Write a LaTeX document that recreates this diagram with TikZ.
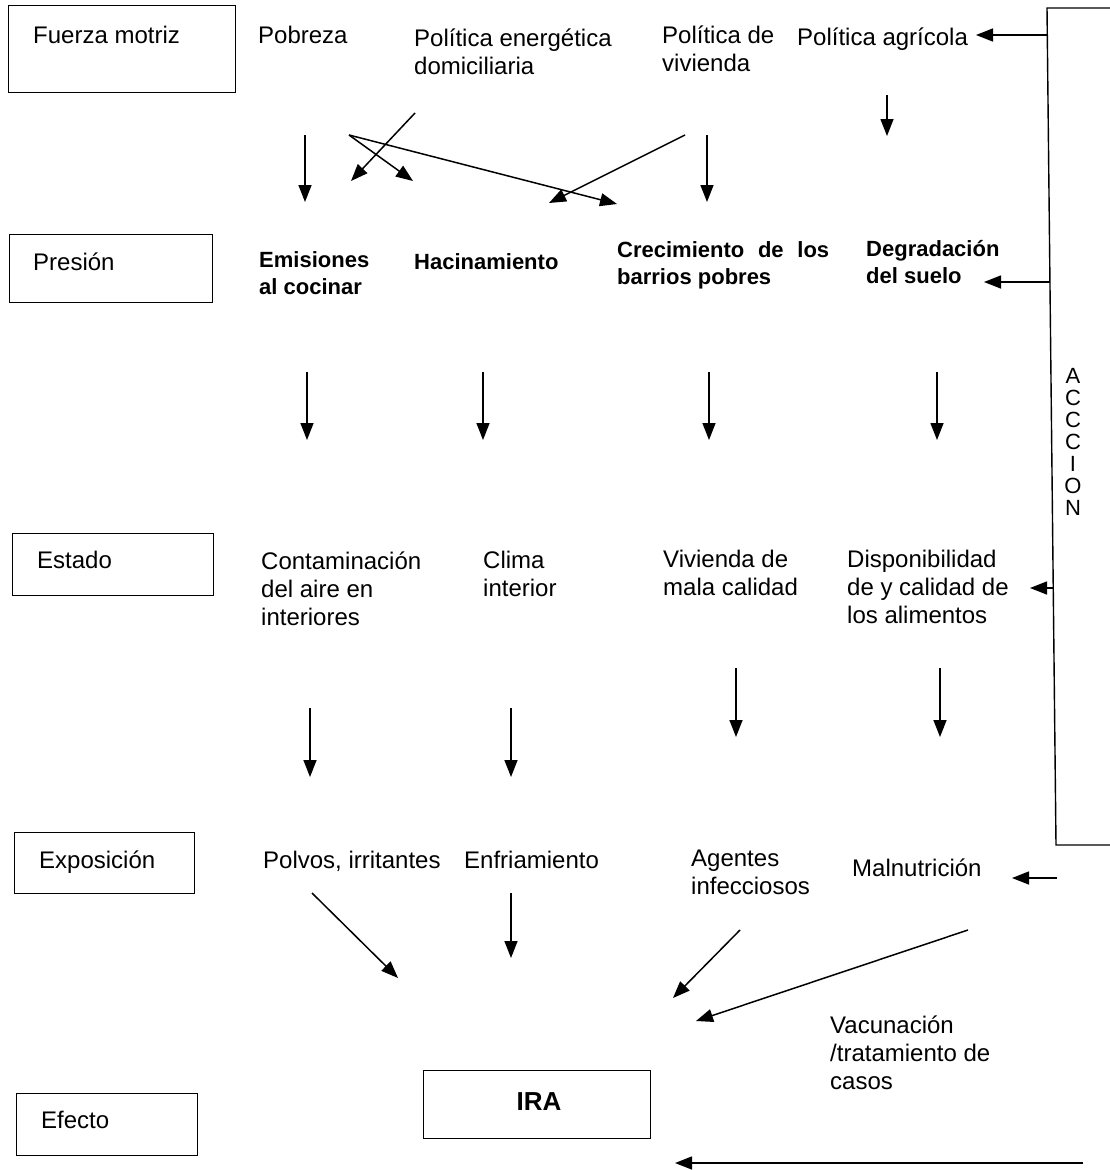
\documentclass[tikz,border=0pt]{standalone}
\usepackage{fontspec}
\setmainfont{Liberation Sans}
\usetikzlibrary{arrows.meta}
\tikzset{
  lbl/.style={anchor=base west, inner sep=0pt, font=\fontsize{24}{28}\selectfont, align=left},
  bld/.style={anchor=base west, inner sep=0pt, font=\bfseries\fontsize{22}{27}\selectfont, align=left},
  lvlbox/.style={draw, line width=1.3pt, anchor=north west, inner sep=0pt},
  arr/.style={line width=1.5pt, -{Triangle[length=17pt,width=13pt]}},
  ln/.style={line width=1.4pt}
}
\begin{document}
\begin{tikzpicture}[x=1pt,y=-1pt]
\useasboundingbox (0,0) rectangle (1109,1170);
% level boxes
\node[lvlbox, minimum width=227pt, minimum height=87pt] (bfm) at (8,5) {};
\node[lvlbox, minimum width=203pt, minimum height=68pt] (bpr) at (9,234) {};
\node[lvlbox, minimum width=201pt, minimum height=62pt] (bes) at (12,533) {};
\node[lvlbox, minimum width=180pt, minimum height=61pt] (bex) at (14,832) {};
\node[lvlbox, minimum width=181pt, minimum height=62pt] (bef) at (16,1093) {};
\node[lvlbox, minimum width=227pt, minimum height=68pt] (bira) at (423,1070) {};
\node[inner sep=0pt, font=\bfseries\fontsize{26}{30}\selectfont] (ira) at (539,1102) {IRA};
% level labels
\node[lbl] (tfm) at (33,43) {Fuerza motriz};
\node[lbl] (tpr) at (33,270) {Presión};
\node[lbl] (tes) at (37,568) {Estado};
\node[lbl] (tex) at (39,868) {Exposición};
\node[lbl] (tef) at (41,1128) {Efecto};
% row 1 (base anchor = baseline of last line)
\node[lbl] (pob) at (258,43) {Pobreza};
\node[lbl] (pen) at (414,74) {Política energética\\domiciliaria};
\node[lbl] (pvi) at (662,71) {Política de\\vivienda};
\node[lbl] (pag) at (797,45) {Política agrícola};
% row 2
\node[bld] (emi) at (259,294) {Emisiones\\al cocinar};
\node[bld] (hac) at (414,269) {Hacinamiento};
\node[bld] (cre) at (617,284) {\makebox[212pt][s]{Crecimiento de los}\\barrios pobres};
\node[bld] (deg) at (866,283) {Degradación\\del suelo};
% row 3
\node[lbl] (con) at (261,625) {Contaminación\\del aire en\\interiores};
\node[lbl] (cli) at (483,596) {Clima\\interior};
\node[lbl] (viv) at (663,595) {Vivienda de\\mala calidad};
\node[lbl] (dis) at (847,623) {Disponibilidad\\de y calidad de\\los alimentos};
% row 4
\node[lbl] (pol) at (263,868) {Polvos, irritantes};
\node[lbl] (enf) at (464,868) {Enfriamiento};
\node[lbl] (age) at (691,894) {Agentes\\infecciosos};
\node[lbl] (mal) at (852,876) {Malnutrición};
% row 5
\node[lbl] (vac) at (830,1089) {Vacunación\\/tratamiento de\\casos};
% ACCION
\node[inner sep=0pt, align=center, font=\fontsize{22}{22}\selectfont, anchor=base] (acc) at (1073,515) {A\\C\\C\\C\\I\\O\\N};
\coordinate (accTL) at (1047,8);
\coordinate (accTR) at (1110,8);
\coordinate (accBL) at (1056,845);
\coordinate (accBR) at (1110,845);
\draw[ln] (accTR) -- (accTL) -- (accBL) -- (accBR);
% arrow coordinates
\coordinate (a1s) at (305,135); \coordinate (a1e) at (305,202);
\coordinate (a2s) at (415,113); \coordinate (a2e) at (351,181);
\coordinate (a3s) at (349,135); \coordinate (a3e) at (413,181);
\coordinate (a4e) at (617,204);
\coordinate (a5s) at (685,135); \coordinate (a5e) at (549,203);
\coordinate (a6s) at (707,135); \coordinate (a6e) at (707,202);
\coordinate (a7s) at (887,95);  \coordinate (a7e) at (887,136);
\coordinate (ags) at (1047.3,35); \coordinate (age2) at (976,35);
\coordinate (dgs) at (1049.8,282); \coordinate (dge) at (984,282);
\coordinate (b1s) at (307,372); \coordinate (b1e) at (307,440);
\coordinate (b2s) at (483,372); \coordinate (b2e) at (483,440);
\coordinate (b3s) at (709,372); \coordinate (b3e) at (709,440);
\coordinate (b4s) at (937,372); \coordinate (b4e) at (937,440);
\coordinate (dss) at (1053,588); \coordinate (dse) at (1030,588);
\coordinate (c1s) at (310,708); \coordinate (c1e) at (310,777);
\coordinate (c2s) at (511,708); \coordinate (c2e) at (511,777);
\coordinate (c3s) at (736,668); \coordinate (c3e) at (736,737);
\coordinate (c4s) at (940,668); \coordinate (c4e) at (940,737);
\coordinate (mns) at (1057,878); \coordinate (mne) at (1012,878);
\coordinate (d1s) at (312,893); \coordinate (d1e) at (398,978);
\coordinate (d2s) at (511,893); \coordinate (d2e) at (511,958);
\coordinate (d3s) at (740,930); \coordinate (d3e) at (673,998);
\coordinate (d4s) at (968,930); \coordinate (d4e) at (696,1021);
\coordinate (bts) at (1083,1163); \coordinate (bte) at (675,1163);
% arrows
\foreach \s/\e in {a1s/a1e, a2s/a2e, a3s/a3e, a3s/a4e, a5s/a5e, a6s/a6e, a7s/a7e,
  ags/age2, dgs/dge, b1s/b1e, b2s/b2e, b3s/b3e, b4s/b4e, dss/dse,
  c1s/c1e, c2s/c2e, c3s/c3e, c4s/c4e, mns/mne,
  d1s/d1e, d2s/d2e, d3s/d3e, d4s/d4e, bts/bte}
  \draw[arr] (\s) -- (\e);
\end{tikzpicture}
\end{document}
